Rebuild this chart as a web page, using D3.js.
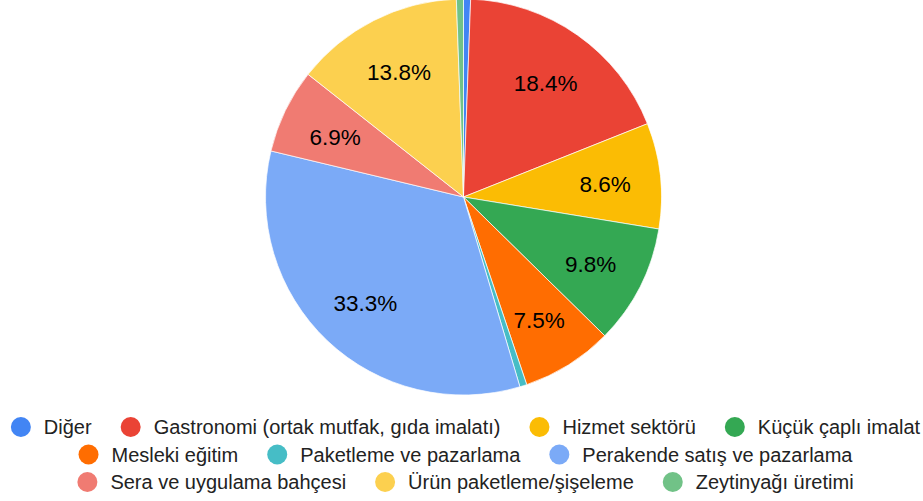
<!DOCTYPE html>
<html>
<head>
<meta charset="utf-8">
<script src="https://cdn.jsdelivr.net/npm/d3@7"></script>
<style>
html,body{margin:0;padding:0;background:#fff;}
svg{display:block;}
</style>
</head>
<body>
<svg id="chart" width="923" height="501"></svg>
<script>
const categories = ["Diğer","Gastronomi (ortak mutfak, gıda imalatı)","Hizmet sektörü","Küçük çaplı imalat","Mesleki eğitim","Paketleme ve pazarlama","Perakende satış ve pazarlama","Sera ve uygulama bahçesi","Ürün paketleme/şişeleme","Zeytinyağı üretimi"];
const counts = [1,32,15,17,13,1,58,12,24,1];
const colors = ["#4285F4","#EA4335","#FBBC04","#34A853","#FF6D01","#46BDC6","#7BAAF7","#F07B72","#FCD04F","#71C287"];
const legendRows = [[0,1,2,3],[4,5,6],[7,8,9]];

const svg = d3.select("#chart");
const font = "'Liberation Sans', Arial, Helvetica, sans-serif";
const cx = 463.5, cy = 197, r = 198;
const total = d3.sum(counts);
const data = categories.map((c,i)=>({cat:c,value:counts[i],color:colors[i]}));

const pie = d3.pie().value(d=>d.value).sort(null).startAngle(0).endAngle(2*Math.PI);
const arcs = pie(data);
const arc = d3.arc().innerRadius(0).outerRadius(r);
const labelArc = d3.arc().innerRadius(r*0.72).outerRadius(r*0.72);

const g = svg.append("g").attr("transform",`translate(${cx},${cy})`);
g.selectAll("path").data(arcs).join("path")
  .attr("d",arc).attr("fill",d=>d.data.color)
  .attr("stroke","#fff").attr("stroke-width",0.7);

g.selectAll("text").data(arcs.filter(d=>d.data.value/total>0.05)).join("text")
  .attr("transform",d=>`translate(${labelArc.centroid(d)})`)
  .attr("text-anchor","middle").attr("dy","0.45em")
  .attr("font-family",font).attr("font-size",22.5).attr("fill","#000")
  .text(d=>(d.data.value/total*100).toFixed(1)+"%");

// legend
const fs = 20;
const rowY = [427, 454.5, 482];
const meas = svg.append("text").attr("font-family",font).attr("font-size",fs);
function tw(s){meas.text(s);return meas.node().getComputedTextLength();}
legendRows.forEach((row,ri)=>{
  const widths = row.map(i=>tw(categories[i]));
  let total = 10;
  widths.forEach((w,k)=>{ total += 23 + w + (k<widths.length-1?39:0); });
  let x = 465.5 - total/2 + 10;
  const lg = svg.append("g");
  row.forEach((i,k)=>{
    lg.append("circle").attr("cx",x).attr("cy",rowY[ri]).attr("r",10).attr("fill",colors[i]);
    lg.append("text").attr("x",x+23).attr("y",rowY[ri]).attr("dy","0.35em")
      .attr("font-family",font).attr("font-size",fs).attr("fill","#222")
      .text(categories[i]);
    x += 23 + widths[k] + 39;
  });
});
meas.remove();
</script>
</body>
</html>
